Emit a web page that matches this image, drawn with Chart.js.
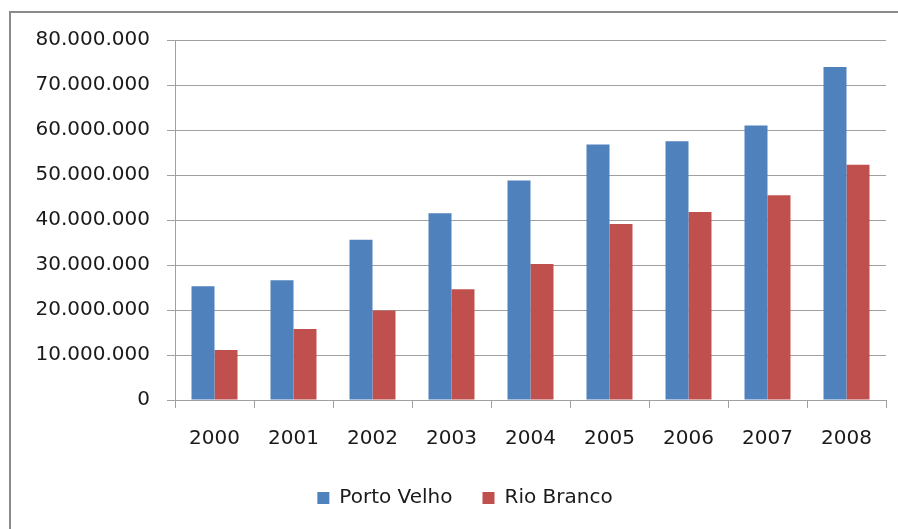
<!DOCTYPE html>
<html>
<head>
<meta charset="utf-8">
<script src="https://cdn.jsdelivr.net/npm/chart.js@4/dist/chart.umd.min.js"></script>
<style>
    body { margin: 0; background: #fff; }
    #wrap { width: 898px; height: 529px; }
</style>
</head>
<body>
<div id="wrap"><canvas id="chart" width="898" height="529"></canvas></div>
<script>
// data
var years = ['2000', '2001', '2002', '2003', '2004', '2005', '2006', '2007', '2008'];
var portoVelho = [25300000, 26600000, 35600000, 41500000, 48800000, 56800000, 57500000, 61000000, 74000000];
var rioBranco = [11100000, 15800000, 19900000, 24600000, 30200000, 39100000, 41800000, 45500000, 52300000];
var yMax = 80000000;
var yStep = 10000000;

// helpers
function formatThousands(value) {
    return String(value).replace(/\B(?=(\d{3})+(?!\d))/g, '.');
}

// frame drawn along the top and left edge
var framePlugin = {
    id: 'frame',
    beforeDraw: function (chart) {
        var ctx = chart.ctx;
        ctx.save();
        ctx.fillStyle = '#fff';
        ctx.fillRect(0, 0, chart.width, chart.height);
        ctx.strokeStyle = '#8a8a8a';
        ctx.lineWidth = 2;
        ctx.beginPath();
        ctx.moveTo(10, chart.height);
        ctx.lineTo(10, 12);
        ctx.lineTo(chart.width, 12);
        ctx.stroke();
        ctx.restore();
    },
    // legend sits a little right of the canvas centre
    afterLayout: function (chart) {
        if (chart.legend) {
            chart.legend.left += 24;
        }
    }
};

var font = { family: '"DejaVu Sans", sans-serif', size: 20 };

new Chart(document.getElementById('chart'), {
    type: 'bar',
    data: {
        labels: years,
        datasets: [
            { label: 'Porto Velho', data: portoVelho, backgroundColor: '#4f81bd' },
            { label: 'Rio Branco', data: rioBranco, backgroundColor: '#c0504d' }
        ]
    },
    options: {
        responsive: false,
        animation: false,
        layout: { padding: { top: 40, right: 12, left: 20, bottom: 11 } },
        datasets: {
            bar: { categoryPercentage: 0.582, barPercentage: 1 }
        },
        plugins: {
            tooltip: { enabled: false },
            legend: {
                position: 'bottom',
                labels: {
                    boxWidth: 12,
                    boxHeight: 12,
                    padding: 30,
                    color: '#1a1a1a',
                    font: font
                }
            }
        },
        scales: {
            x: {
                afterFit: function (scale) { scale.height = 58; },
                grid: {
                    offset: true,
                    drawOnChartArea: false,
                    tickLength: 8,
                    color: '#a0a0a0'
                },
                border: { color: '#a0a0a0' },
                ticks: { color: '#1a1a1a', font: font, padding: 19 }
            },
            y: {
                min: 0,
                max: yMax,
                afterFit: function (scale) { scale.width = 155; },
                grid: { tickLength: 8, color: '#a0a0a0' },
                border: { color: '#a0a0a0' },
                ticks: {
                    stepSize: yStep,
                    color: '#1a1a1a',
                    font: font,
                    padding: 17,
                    callback: function (value) { return formatThousands(value); }
                }
            }
        }
    },
    plugins: [framePlugin]
});
</script>
</body>
</html>
